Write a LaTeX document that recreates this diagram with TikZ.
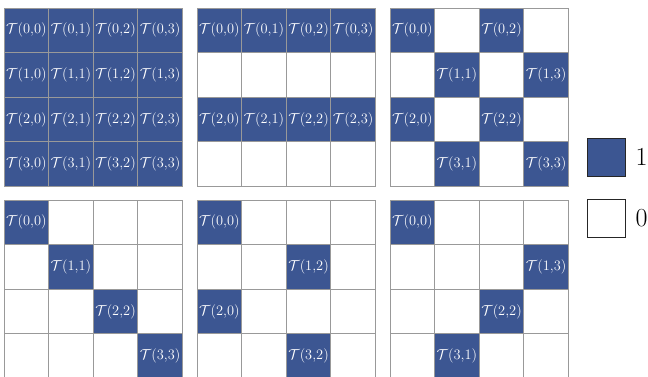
\documentclass[tikz,border=0pt]{standalone}
\usepackage{amsmath}
\definecolor{tblue}{RGB}{60,86,146}
\tikzset{
  cell/.style={draw=gray!80, line width=0.9pt, fill=white, minimum size=44.6pt, inner sep=0pt},
  cellon/.style={cell, fill=tblue, text=white, font=\fontsize{14.5}{15}\selectfont},
  legbox/.style={draw=black!85, line width=0.7pt, minimum size=38pt, inner sep=0pt}
}
\begin{document}
\begin{tikzpicture}[x=1pt, y=-1pt]
  \useasboundingbox (0,0) rectangle (648,377);
  \def\s{44.6}
  % grid origin / cells holding 1
  \foreach \g/\ox/\oy/\on in {
      a/4/8/{0/0,0/1,0/2,0/3,1/0,1/1,1/2,1/3,2/0,2/1,2/2,2/3,3/0,3/1,3/2,3/3},
      b/197/8/{0/0,0/1,0/2,0/3,2/0,2/1,2/2,2/3},
      c/390/8/{0/0,0/2,1/1,1/3,2/0,2/2,3/1,3/3},
      d/4/200/{0/0,1/1,2/2,3/3},
      e/197/200/{0/0,1/2,2/0,3/2},
      f/390/200/{0/0,1/3,2/2,3/1}} {
    \foreach \r in {0,...,3} {
      \foreach \c in {0,...,3} {
        \node[cell] (\g-\r-\c) at (\ox+\c*\s+\s/2, \oy+\r*\s+\s/2) {};
      }
    }
    \foreach \r/\c in \on {
      \node[cellon] (\g-\r-\c) at (\ox+\c*\s+\s/2, \oy+\r*\s+\s/2) {$\mathcal{T}(\r{,}\c)$};
    }
  }
  % legend
  \node[legbox, fill=tblue] (one) at (606,157) {};
  \node[legbox, fill=white] (zero) at (606,218.5) {};
  \node[right, font=\fontsize{26}{28}\selectfont, inner sep=0pt, xshift=10pt] (onetxt) at (one.east) {1};
  \node[right, font=\fontsize{26}{28}\selectfont, inner sep=0pt, xshift=10pt] (zerotxt) at (zero.east) {0};
\end{tikzpicture}
\end{document}
